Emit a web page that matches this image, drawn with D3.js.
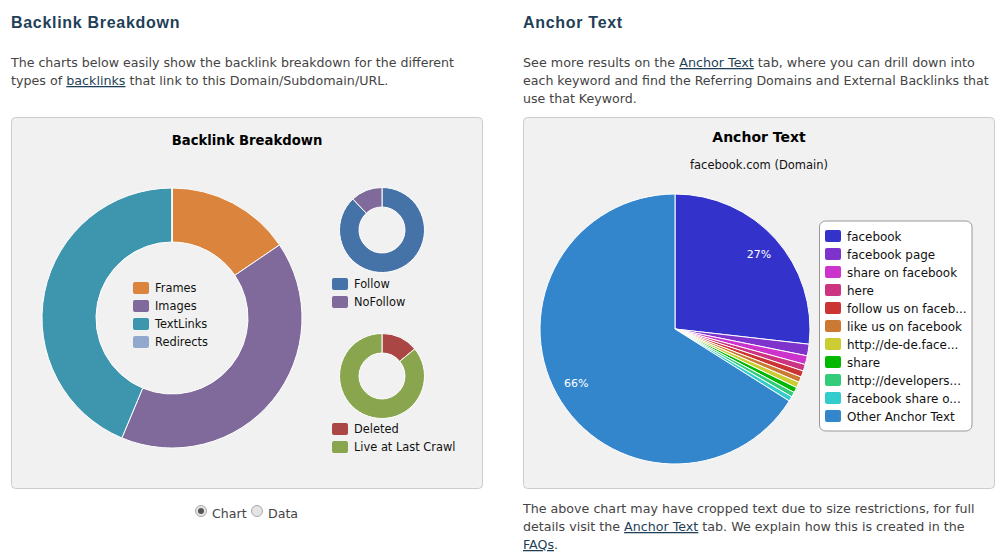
<!DOCTYPE html>
<html>
<head>
<meta charset="utf-8">
<script src="https://cdnjs.cloudflare.com/ajax/libs/d3/7.8.5/d3.min.js"></script>
<style>
    body { margin: 0; background: #fff; }
    text { font-family: "DejaVu Sans", sans-serif; }
    .heading { font-family: "Liberation Sans", sans-serif; font-size: 16px; font-weight: bold; fill: #1f3f58; letter-spacing: 0.7px; }
    .para { font-size: 12.6px; fill: #444; }
    .link { fill: #1f3f58; text-decoration: underline; }
    .title { font-size: 14px; font-weight: bold; fill: #000; }
    .legend { font-size: 11.4px; fill: #111; }
</style>
</head>
<body>
<svg id="page" width="1006" height="556"></svg>
<script>
    let svg = d3.select("#page");

    // chart values (percent)
    let breakdown = [
        {name: "Frames", value: 15.5, color: "#db843d"},
        {name: "Images", value: 40.8, color: "#80699b"},
        {name: "TextLinks", value: 43.7, color: "#3d96ae"},
        {name: "Redirects", value: 0, color: "#92a8cd"}
    ];
    let follow = [
        {name: "Follow", value: 88, color: "#4572a7"},
        {name: "NoFollow", value: 12, color: "#80699b"}
    ];
    let crawl = [
        {name: "Deleted", value: 14, color: "#aa4643"},
        {name: "Live at Last Crawl", value: 86, color: "#89a54e"}
    ];
    let anchors = [
        {name: "facebook", value: 26.8, color: "#3333cc", label: "27%"},
        {name: "facebook page", value: 1.39, color: "#7e33cc"},
        {name: "share on facebook", value: 1.05, color: "#cc33cc"},
        {name: "here", value: 0.8, color: "#cc3380"},
        {name: "follow us on faceb...", value: 0.75, color: "#cc3333"},
        {name: "like us on facebook", value: 0.67, color: "#cc7a33"},
        {name: "http://de-de.face...", value: 0.69, color: "#cccc33"},
        {name: "share", value: 0.64, color: "#00b800"},
        {name: "http://developers...", value: 0.58, color: "#33cc7a"},
        {name: "facebook share o...", value: 0.58, color: "#33cccc"},
        {name: "Other Anchor Text", value: 66.05, color: "#3385cc", label: "66%"}
    ];

    let pie = d3.pie().value(d => d.value).sort(null);

    function drawPie(data, cx, cy, inner, outer) {
        let arc = d3.arc().innerRadius(inner).outerRadius(outer);
        let g = svg.append("g").attr("transform", "translate(" + cx + "," + cy + ")");
        g.selectAll("path")
            .data(pie(data))
            .enter().append("path")
            .attr("d", arc)
            .attr("fill", d => d.data.color)
            .attr("stroke", "#fff")
            .attr("stroke-width", 1);
        return g;
    }

    function drawLegend(data, x, y, fontSize, textY) {
        let rowScale = d3.scaleLinear().domain([0, 1]).range([y, y + 18]);
        let rows = svg.append("g").selectAll("g")
            .data(data)
            .enter().append("g")
            .attr("transform", (d, i) => "translate(" + x + "," + rowScale(i) + ")");
        rows.append("rect")
            .attr("y", -6)
            .attr("width", 16)
            .attr("height", 12)
            .attr("rx", 2)
            .attr("fill", d => d.color);
        rows.append("text")
            .attr("class", "legend")
            .attr("x", 22)
            .attr("y", textY)
            .style("font-size", fontSize + "px")
            .text(d => d.name);
    }

    function addText(cls, x, y, parts, anchor) {
        let t = svg.append("text")
            .attr("class", cls)
            .attr("x", x)
            .attr("y", y)
            .attr("text-anchor", anchor || "start");
        parts.forEach(function (p) {
            // strings are plain text, arrays are links
            if (Array.isArray(p)) {
                t.append("tspan").attr("class", "link").text(p[0]);
            } else {
                t.append("tspan").text(p);
            }
        });
        return t;
    }

    // panels
    [11.5, 523.5].forEach(function (x) {
        svg.append("rect")
            .attr("x", x)
            .attr("y", 117.5)
            .attr("width", 471)
            .attr("height", 371)
            .attr("rx", 4)
            .attr("fill", "#f1f1f1")
            .attr("stroke", "#ccc");
    });

    // left column text
    addText("heading", 11, 28, ["Backlink Breakdown"]);
    addText("para", 11, 67, ["The charts below easily show the backlink breakdown for the different"]);
    addText("para", 11, 85, ["types of ", ["backlinks"], " that link to this Domain/Subdomain/URL."]).style("font-size", "12.7px");
    addText("title", 247, 145, ["Backlink Breakdown"], "middle").style("font-size", "13.2px");

    // right column text
    addText("heading", 523, 28, ["Anchor Text"]);
    addText("para", 523, 67, ["See more results on the ", ["Anchor Text"], " tab, where you can drill down into"]).style("font-size", "12.72px");
    addText("para", 523, 85, ["each keyword and find the Referring Domains and External Backlinks that"]);
    addText("para", 523, 103, ["use that Keyword."]);
    addText("title", 759, 142, ["Anchor Text"], "middle");
    svg.append("text")
        .attr("x", 759)
        .attr("y", 169)
        .attr("text-anchor", "middle")
        .attr("font-size", 11.5)
        .attr("fill", "#111")
        .text("facebook.com (Domain)");
    addText("para", 523, 513, ["The above chart may have cropped text due to size restrictions, for full"]).style("font-size", "12.66px");
    addText("para", 523, 531, ["details visit the ", ["Anchor Text"], " tab. We explain how this is created in the"]).style("font-size", "12.66px");
    addText("para", 523, 549, [["FAQs"], "."]);

    // donuts
    drawPie(breakdown, 172, 318, 76, 130);
    drawLegend(breakdown, 133, 288, 11.4, 4);
    drawPie(follow, 382, 230, 23, 42.5);
    drawLegend(follow, 332, 284, 11.4, 4);
    drawPie(crawl, 382, 376, 23, 42.5);
    drawLegend(crawl, 332, 429, 11.4, 4);

    // anchor text pie
    let anchorArc = d3.arc().innerRadius(0).outerRadius(135);
    let anchorPie = drawPie(anchors, 675, 329, 0, 135);
    anchorPie.selectAll("text")
        .data(pie(anchors).filter(d => d.data.label))
        .enter().append("text")
        .attr("transform", d => "translate(" + anchorArc.centroid(d).map(v => v * 1.67) + ")")
        .attr("text-anchor", "middle")
        .attr("dy", "0.35em")
        .attr("font-size", 11)
        .attr("fill", "#fff")
        .text(d => d.data.label);

    svg.append("rect")
        .attr("x", 819.5)
        .attr("y", 221)
        .attr("width", 152.5)
        .attr("height", 210)
        .attr("rx", 6)
        .attr("fill", "#fff")
        .attr("stroke", "#999");
    drawLegend(anchors, 825, 236, 11.95, 5);

    // chart / data radios
    let radios = svg.append("g").selectAll("circle")
        .data([{x: 201, checked: true}, {x: 257, checked: false}])
        .enter().append("g")
        .attr("transform", d => "translate(" + d.x + ",511)");
    radios.append("circle")
        .attr("r", 5.5)
        .attr("fill", "#e4e4e4")
        .attr("stroke", "#aaa");
    radios.filter(d => d.checked).append("circle")
        .attr("r", 3)
        .attr("fill", "#555");
    addText("para", 212, 518, ["Chart"]);
    addText("para", 268, 518, ["Data"]);
</script>
</body>
</html>
